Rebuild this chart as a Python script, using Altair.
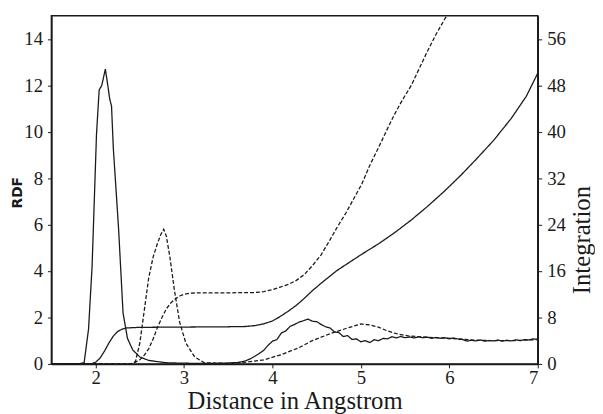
import altair as alt
import pandas as pd

# ---- RDF curve A (solid) ----
rdf_a_x = [1.5, 1.8, 1.87, 1.92, 1.96, 2.01, 2.04, 2.07, 2.11, 2.13, 2.16, 2.18, 2.2, 2.26, 2.31, 2.36, 2.42, 2.5, 2.6, 2.8, 3.0, 3.3, 3.5,
           3.60, 3.65, 3.70, 3.75, 3.80, 3.85, 3.90, 3.95, 4.00, 4.05, 4.10, 4.15, 4.20, 4.25, 4.30, 4.35, 4.40, 4.45,
           4.50, 4.55, 4.60, 4.65, 4.70, 4.75, 4.80, 4.85, 4.90, 4.95, 5.00, 5.05, 5.10, 5.15, 5.20, 5.25, 5.30, 5.35,
           5.40, 5.45, 5.50, 5.55, 5.60, 5.65, 5.70, 5.75, 5.80, 5.85, 5.90, 5.95, 6.00, 6.05, 6.10, 6.15, 6.20, 6.25,
           6.30, 6.35, 6.40, 6.45, 6.50, 6.55, 6.60, 6.65, 6.70, 6.75, 6.80, 6.85, 6.90, 6.95, 7.00]
rdf_a_y = [0, 0, 0.05, 1.5, 4.2, 9.9, 11.8, 12.0, 12.7, 12.2, 11.4, 11.1, 9.3, 5.8, 2.2, 1.1, 0.6, 0.3, 0.15, 0.05, 0.03, 0.02, 0.04,
           0.06, 0.09, 0.14, 0.22, 0.33, 0.45, 0.58, 0.80, 0.98, 1.05, 1.33, 1.42, 1.62, 1.70, 1.80, 1.86, 1.93, 1.84,
           1.82, 1.70, 1.60, 1.55, 1.38, 1.35, 1.18, 1.22, 1.05, 1.08, 0.95, 1.00, 0.92, 1.04, 1.00, 1.10, 1.08, 1.17,
           1.12, 1.18, 1.13, 1.16, 1.12, 1.17, 1.13, 1.15, 1.10, 1.14, 1.10, 1.13, 1.08, 1.12, 1.07, 1.05, 0.98, 1.02,
           0.99, 1.03, 0.98, 1.01, 0.99, 1.03, 0.98, 1.02, 0.99, 1.04, 1.00, 1.05, 1.03, 1.08, 1.06]

# ---- RDF curve B (dashed) ----
rdf_b_x = [1.5, 2.4, 2.45, 2.5, 2.55, 2.6, 2.65, 2.7, 2.74, 2.77, 2.8, 2.84, 2.89, 2.95, 3.02, 3.12, 3.23, 3.5, 3.7, 3.9,
           4.1, 4.3, 4.45, 4.65, 4.85, 5.0, 5.1, 5.2, 5.3, 5.4, 5.55, 5.7, 5.9, 6.1, 6.3, 6.5, 6.7, 6.9, 7.0]
rdf_b_y = [0, 0, 0.1, 0.9, 2.3, 3.7, 4.6, 5.2, 5.6, 5.8, 5.5, 4.6, 3.2, 1.8, 0.9, 0.3, 0.05, 0.02, 0.08, 0.17,
           0.4, 0.7, 1.0, 1.3, 1.55, 1.72, 1.68, 1.58, 1.42, 1.3, 1.2, 1.16, 1.12, 1.08, 1.02, 1.0, 1.0, 1.03, 1.05]

# ---- Integration curve A (solid) ----
int_a_x = [1.5, 1.95, 2.0, 2.05, 2.1, 2.15, 2.2, 2.25, 2.3, 2.35, 2.5, 3.0, 3.5, 3.7, 3.8, 3.9, 4.0, 4.08, 4.18, 4.27,
           4.36, 4.45, 4.55, 4.64, 4.73, 4.83, 4.92, 5.01, 5.2, 5.38, 5.57, 5.75, 5.94, 6.13, 6.3, 6.5, 6.7, 6.87, 7.0]
int_a_y = [0, 0, 0.3, 1.0, 2.2, 3.6, 4.8, 5.6, 6.0, 6.2, 6.3, 6.35, 6.4, 6.45, 6.6, 6.9, 7.4, 8.1, 9.1, 10.1,
           11.3, 12.6, 13.9, 15.0, 16.1, 17.1, 18.0, 18.9, 20.7, 22.6, 24.8, 27.1, 29.7, 32.5, 35.2, 38.5, 42.3, 46.1, 50.1]

# ---- Integration curve B (dashed) ----
int_b_x = [1.5, 2.4, 2.45, 2.5, 2.55, 2.6, 2.65, 2.7, 2.75, 2.8, 2.85, 2.9, 2.95, 3.0, 3.07, 3.2, 3.5, 3.8, 3.9, 4.0,
           4.08, 4.18, 4.27, 4.36, 4.45, 4.55, 4.64, 4.73, 4.83, 4.92, 5.01, 5.1, 5.2, 5.29, 5.38, 5.47, 5.57, 5.66,
           5.75, 5.85, 5.97]
int_b_y = [0, 0, 0.3, 0.7, 1.5, 2.6, 4.3, 6.3, 8.0, 9.5, 10.5, 11.2, 11.7, 12.0, 12.2, 12.25, 12.25, 12.3, 12.45, 12.8,
           13.2, 13.7, 14.4, 15.4, 16.9, 18.8, 21.1, 23.5, 26.0, 28.5, 31.0, 34.2, 37.3, 40.2, 43.0, 45.5, 48.0, 50.9,
           53.8, 56.8, 60.0]

x_ticks = [2, 3, 4, 5, 6, 7]
rdf_ticks = [0, 2, 4, 6, 8, 10, 12, 14]
int_ticks = [0, 8, 16, 24, 32, 40, 48, 56]


def frame(xs, ys, name):
    return pd.DataFrame({"x": xs, "y": ys, "series": name})


rdf_df = pd.concat([frame(rdf_a_x, rdf_a_y, "A"), frame(rdf_b_x, rdf_b_y, "B")])
int_df = pd.concat([frame(int_a_x, int_a_y, "A"), frame(int_b_x, int_b_y, "B")])

SERIF = "Liberation Serif"
INK = "#1a1a1a"
LBL = 19

x_enc = alt.X(
    "x:Q",
    scale=alt.Scale(domain=[1.5, 7], nice=False, zero=False),
    axis=alt.Axis(values=x_ticks, title="Distance in Angstrom", grid=False,
                  labelFont=SERIF, labelFontSize=LBL, labelColor=INK,
                  titleFont=SERIF, titleFontSize=25, titleFontWeight="normal", titleColor=INK,
                  tickSize=4, labelPadding=1, titlePadding=1,
                  domainColor=INK, tickColor=INK, domainWidth=1.5),
)

dash = alt.StrokeDash("series:N", scale=alt.Scale(domain=["A", "B"], range=[[1, 0], [4, 2]]), legend=None)

rdf = alt.Chart(rdf_df).mark_line(strokeWidth=1.3, color=INK, clip=True).encode(
    x=x_enc,
    y=alt.Y("y:Q", scale=alt.Scale(domain=[0, 15], nice=False),
            axis=alt.Axis(orient="left", values=rdf_ticks, title="RDF", grid=False,
                          labelFont=SERIF, labelFontSize=LBL, labelColor=INK,
                          titleFont="DejaVu Sans", titleFontSize=14, titleFontWeight="bold", titleColor=INK,
                          titleX=-27, titleY=179, titleBaseline="bottom",
                          tickSize=4, labelPadding=5,
                          domainColor=INK, tickColor=INK, domainWidth=1.5)),
    strokeDash=dash,
    detail="series:N",
)

integ = alt.Chart(int_df).mark_line(strokeWidth=1.3, color=INK, clip=True).encode(
    x=x_enc,
    y=alt.Y("y:Q", scale=alt.Scale(domain=[0, 60], nice=False),
            axis=alt.Axis(orient="right", values=int_ticks, title="Integration", grid=False,
                          labelFont=SERIF, labelFontSize=LBL, labelColor=INK,
                          titleFont=SERIF, titleFontSize=25, titleFontWeight="normal", titleColor=INK,
                          titleAngle=270, titleX=52, titleY=227, titleBaseline="alphabetic",
                          tickSize=4, labelPadding=5,
                          domainColor=INK, tickColor=INK, domainWidth=1.5)),
    strokeDash=dash,
    detail="series:N",
)

chart = (
    alt.layer(rdf, integ)
    .resolve_scale(y="independent")
    .properties(width=493, height=353,
                padding={"left": 44, "top": 5, "right": 58, "bottom": 48},
                autosize=alt.AutoSizeParams(type="none"),
                background="white")
    .configure_view(stroke=INK, strokeWidth=1.5)
)

chart.save("out.html", embed_options={"renderer": "svg", "actions": False})
